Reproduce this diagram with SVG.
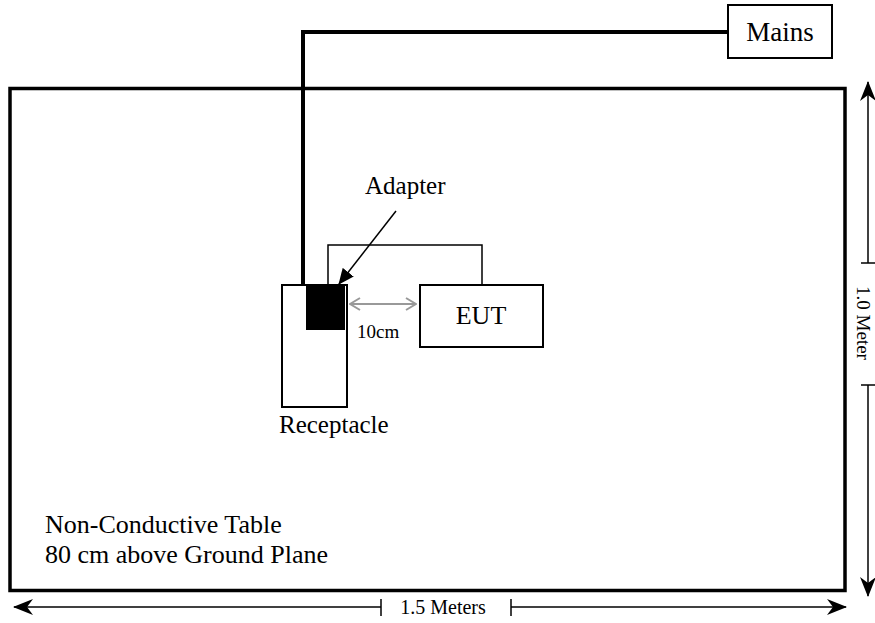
<svg xmlns="http://www.w3.org/2000/svg" width="875" height="623" viewBox="0 0 875 623">
<style>
text{font-family:"Liberation Serif","Times New Roman",serif;fill:#000}
.box{fill:#fff;stroke:#000;stroke-width:2}
.thin{stroke:#000;stroke-width:1.5;fill:none}
</style>
<defs>
<marker id="stealth" viewBox="0 0 20 16" refX="19" refY="8" markerWidth="20" markerHeight="16" markerUnits="userSpaceOnUse" orient="auto-start-reverse">
<path d="M0,0 L20,8 L0,16 L6,8 Z" fill="#000"/>
</marker>
<marker id="tri" viewBox="0 0 16 14" refX="15" refY="7" markerWidth="16" markerHeight="14" markerUnits="userSpaceOnUse" orient="auto">
<path d="M0,0 L16,7 L0,14 Z" fill="#000"/>
</marker>
<marker id="grayv" viewBox="0 0 12 14" refX="11" refY="7" markerWidth="12" markerHeight="14" markerUnits="userSpaceOnUse" orient="auto-start-reverse">
<path d="M1,1 L11,7 L1,13" fill="none" stroke="#999" stroke-width="2"/>
</marker>
</defs>
<g id="table"><rect x="10" y="88.5" width="835" height="502" fill="#fff" stroke="#000" stroke-width="3.5"/>
<text x="45" y="533" font-size="26">Non-Conductive Table</text>
<text x="45" y="563" font-size="26">80 cm above Ground Plane</text></g>
<g id="connectors">
<polyline points="728,32 303,32 303,285" fill="none" stroke="#000" stroke-width="4"/>
<polyline points="328,285 328,245 482,245 482,285" class="thin"/>
<line x1="396" y1="211" x2="339" y2="284" stroke="#000" stroke-width="1.5" marker-end="url(#tri)"/>
<line x1="350" y1="304" x2="416" y2="304" stroke="#999" stroke-width="2" marker-start="url(#grayv)" marker-end="url(#grayv)"/>
</g>
<g id="mains"><rect x="728" y="5" width="104" height="53" class="box"/><text x="780" y="41" font-size="27" text-anchor="middle">Mains</text></g>
<g id="receptacle"><rect x="282" y="285" width="65" height="122" class="box"/><text x="279" y="433" font-size="25">Receptacle</text></g>
<g id="adapter"><rect x="306" y="285" width="39" height="45" fill="#000"/><text x="365" y="194" font-size="25">Adapter</text></g>
<g id="eut"><rect x="420" y="285" width="123" height="62" class="box"/><text x="481" y="324" font-size="26" text-anchor="middle">EUT</text></g>
<text x="357" y="338" font-size="19">10cm</text>
<g id="dim-width">
<line x1="14" y1="607" x2="381" y2="607" class="thin" marker-start="url(#stealth)"/>
<line x1="381" y1="599" x2="381" y2="616" class="thin"/>
<text x="443" y="614" font-size="20" text-anchor="middle">1.5 Meters</text>
<line x1="511" y1="607" x2="846" y2="607" class="thin" marker-end="url(#stealth)"/>
<line x1="511" y1="599" x2="511" y2="616" class="thin"/>
</g>
<g id="dim-height">
<line x1="868" y1="82" x2="868" y2="263" class="thin" marker-start="url(#stealth)"/>
<line x1="861" y1="263" x2="875" y2="263" class="thin"/>
<text transform="translate(857,323) rotate(90)" font-size="19" text-anchor="middle">1.0 Meter</text>
<line x1="868" y1="385" x2="868" y2="596" class="thin" marker-end="url(#stealth)"/>
<line x1="861" y1="385" x2="875" y2="385" class="thin"/>
</g>
</svg>
